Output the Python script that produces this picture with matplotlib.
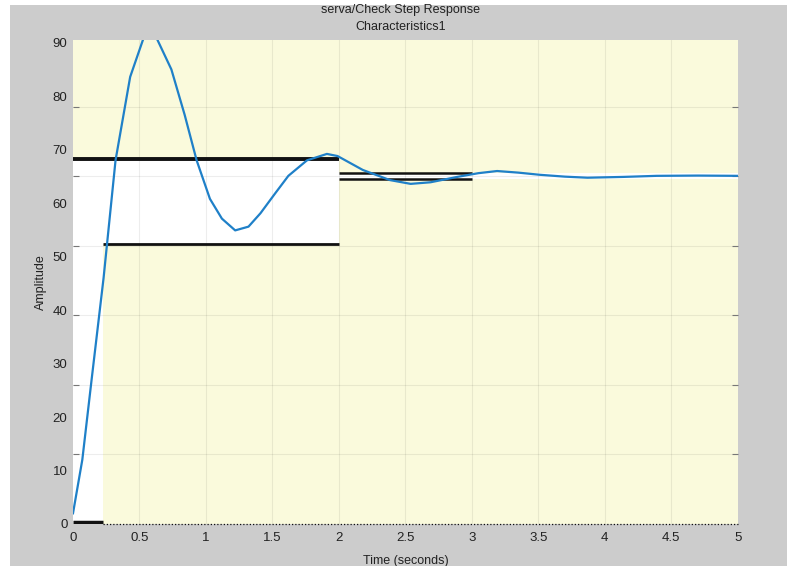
import matplotlib
matplotlib.use("Agg")
import matplotlib.pyplot as plt
from matplotlib.patches import Rectangle
import numpy as np

# ---- data ----
time_s = [0, 0.07, 0.14, 0.23, 0.32, 0.43, 0.53, 0.58, 0.63, 0.74, 0.84, 0.93,
          1.03, 1.12, 1.22, 1.32, 1.41, 1.52, 1.62, 1.76, 1.91, 1.99, 2.18, 2.385,
          2.54, 2.69, 2.89, 3.05, 3.19, 3.35, 3.51, 3.70, 3.87, 4.14, 4.39, 4.70, 5.0]
amplitude = [2, 12, 27, 46, 68, 83.6, 90.8, 93, 90.8, 85, 76.5, 68,
             60.8, 57.1, 54.9, 55.6, 58.1, 61.8, 65.1, 68, 69.2, 68.8, 66.2, 64.3,
             63.6, 63.9, 64.9, 65.6, 66.0, 65.7, 65.3, 64.95, 64.75, 64.9, 65.1, 65.15, 65.1]

rise_end = 0.226
step_end = 2.0
settle_end = 3.0
t_final = 5.0
upper_bound = 68.3
lower_bound = 52.3
settle_hi = 65.7
settle_lo = 64.45
start_bar = 0.4

x_ticks = [0, 0.5, 1, 1.5, 2, 2.5, 3, 3.5, 4, 4.5, 5]
x_labels = ["0", "0.5", "1", "1.5", "2", "2.5", "3", "3.5", "4", "4.5", "5"]
y_ticks = [0, 10, 20, 30, 40, 50, 60, 70, 80, 90]
grid_y = [0, 13, 26, 39, 52, 65, 78]

plt.rcParams['font.family'] = ['Liberation Sans', 'DejaVu Sans']

W, H = 787, 566
fig = plt.figure(figsize=(W / 100, H / 100), dpi=100, facecolor='white')
# gray panel
fig.patches.append(Rectangle((10 / W, 0), 1 - 10 / W, 1 - 5 / H, transform=fig.transFigure,
                             facecolor='#CCCCCC', edgecolor='none', zorder=-10))
fig.patches.append(Rectangle((717 / W, -0.01), 80 / W, 5 / H, transform=fig.transFigure,
                             facecolor='#E8E8E8', edgecolor='#A0A0A0', lw=0.8, zorder=-5))

ax = fig.add_axes([73 / W, 1 - 524 / H, (737.7 - 73) / W, (524 - 40) / H])
ax.set_facecolor('#FAFADC')
ax.set_xlim(0, t_final)
ax.set_ylim(0, 90.5)
for s in ax.spines.values():
    s.set_visible(False)

# white characteristic regions
ax.add_patch(Rectangle((0, 0), rise_end, upper_bound, facecolor='white', edgecolor='none', zorder=0.5))
ax.add_patch(Rectangle((rise_end, lower_bound), step_end - rise_end, upper_bound - lower_bound,
                       facecolor='white', edgecolor='none', zorder=0.5))
ax.add_patch(Rectangle((step_end, settle_lo), t_final - step_end, settle_hi - settle_lo,
                       facecolor='white', edgecolor='none', zorder=0.5))

# grid
for gx in x_ticks[1:-1]:
    ax.axvline(gx, color='#000000', alpha=0.07, lw=0.8, zorder=0.8)
for gy in grid_y[1:]:
    ax.axhline(gy, color='#000000', alpha=0.07, lw=0.8, zorder=0.8)

# black bound lines
ax.plot([0, step_end], [upper_bound, upper_bound], color='#111111', lw=2.8, zorder=2, solid_capstyle='butt')
ax.plot([rise_end, step_end], [lower_bound, lower_bound], color='#111111', lw=2.0, zorder=2, solid_capstyle='butt')
ax.plot([step_end, settle_end], [settle_hi, settle_hi], color='#111111', lw=1.8, zorder=2, solid_capstyle='butt')
ax.plot([step_end, settle_end], [settle_lo, settle_lo], color='#111111', lw=1.8, zorder=2, solid_capstyle='butt')
ax.plot([0, rise_end], [start_bar, start_bar], color='#111111', lw=2.5, zorder=2, solid_capstyle='butt')
ax.plot([rise_end, t_final], [0, 0], color='#111111', lw=0.9, ls=(0, (1, 1.6)), zorder=2, clip_on=False)

# response
ax.plot(time_s, amplitude, color='#1F80C8', lw=1.6, zorder=3)

# ticks
ax.set_xticks(x_ticks)
ax.set_xticklabels(x_labels)
ax.set_yticks(y_ticks)
ax.set_yticks(grid_y, minor=True)
ax.tick_params(axis='both', which='major', length=0, labelsize=9.5, colors='#222222', pad=4)
ax.tick_params(axis='y', which='minor', length=4, direction='in', left=True, right=True,
               color='#777777', width=0.8)
ax.tick_params(axis='x', which='major', pad=6)

ax.set_xlabel("Time (seconds)", fontsize=9, color='#222222', labelpad=8)
ax.set_ylabel("Amplitude", fontsize=9, color='#222222', labelpad=4)
fig.text(401 / W, 1 - 10 / H, "serva/Check Step Response", ha='center', va='center',
         fontsize=9, color='#222222')
fig.text(401 / W, 1 - 27 / H, "Characteristics1", ha='center', va='center',
         fontsize=9, color='#222222')

fig.savefig("out.png", dpi=100, facecolor=fig.get_facecolor())
